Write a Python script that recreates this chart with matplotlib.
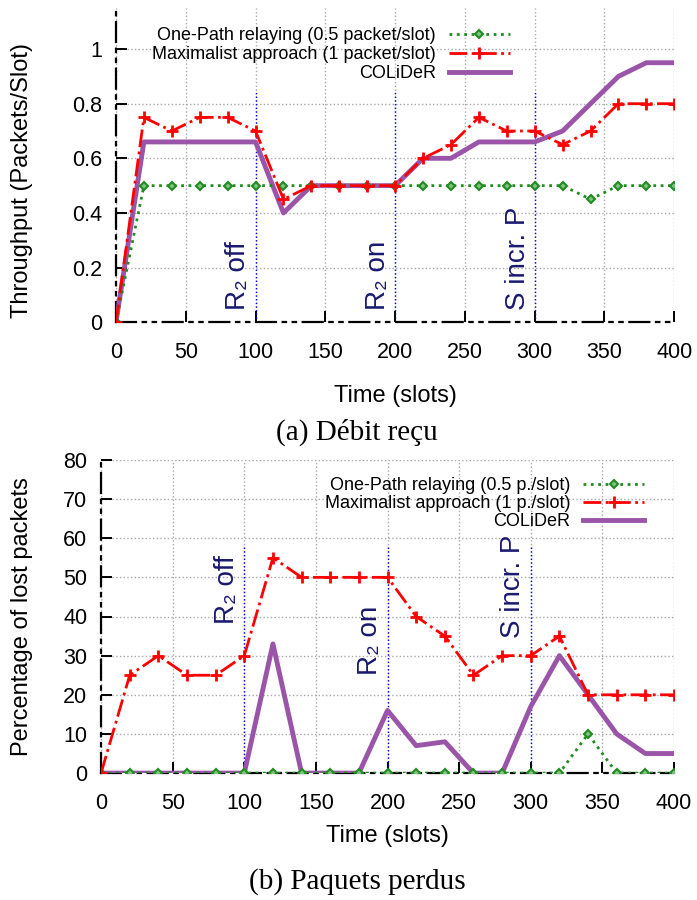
import matplotlib
matplotlib.use('Agg')
import matplotlib.pyplot as plt
from matplotlib.ticker import FormatStrFormatter

plt.rcParams['font.family'] = ['Liberation Sans', 'DejaVu Sans']

# Data
slots = list(range(0, 401, 20))

thr_onepath = [0, 0.5, 0.5, 0.5, 0.5, 0.5, 0.5, 0.5, 0.5, 0.5, 0.5,
               0.5, 0.5, 0.5, 0.5, 0.5, 0.5, 0.45, 0.5, 0.5, 0.5]
thr_maximal = [0, 0.75, 0.70, 0.75, 0.75, 0.70, 0.45, 0.5, 0.5, 0.5, 0.5,
               0.6, 0.65, 0.75, 0.70, 0.70, 0.65, 0.70, 0.8, 0.8, 0.8]
thr_colider = [0, 0.66, 0.66, 0.66, 0.66, 0.66, 0.40, 0.5, 0.5, 0.5, 0.5,
               0.6, 0.6, 0.66, 0.66, 0.66, 0.70, 0.8, 0.9, 0.95, 0.95]

lost_onepath = [0, 0, 0, 0, 0, 0, 0, 0, 0, 0, 0,
                0, 0, 0, 0, 0, 0, 10, 0, 0, 0]
lost_maximal = [0, 25, 30, 25, 25, 30, 55, 50, 50, 50, 50,
                40, 35, 25, 30, 30, 35, 20, 20, 20, 20]
lost_colider = [0, 0, 0, 0, 0, 0, 33, 0, 0, 0, 16,
                7, 8, 0, 0, 17, 30, 20, 10, 5, 5]

event_x = [100, 200, 300]
event_labels = ['R\u2082 off', 'R\u2082 on', 'S incr. P']

spine_ls = (0, (9, 3, 1.5, 3, 1.5, 3))


def style_axes(ax):
    for s in ['top', 'right']:
        ax.spines[s].set_visible(False)
    for s in ['left', 'bottom']:
        ax.spines[s].set_linestyle(spine_ls)
        ax.spines[s].set_linewidth(1.6)
    ax.tick_params(direction='in', length=8, width=1.4, labelsize=15.5,
                   top=False, right=False)
    ax.tick_params(axis='x', pad=14)
    ax.tick_params(axis='y', pad=10)
    ax.grid(True, color='#a8a8a8', linestyle=':', linewidth=1.0)
    ax.set_axisbelow(True)
    ax.set_xlim(0, 400)
    ax.set_xticks(range(0, 401, 50))
    ax.set_xlabel('Time (slots)', fontsize=17)


def draw_series(ax, one, maxi, col, labels):
    ax.plot(slots, col, color='#9a55a8', lw=3.5, zorder=3, label=labels[2])
    ax.plot(slots, one, color='#228b22', lw=2, ls=':', marker='D', ms=4.5,
            mfc='#7fc27f', mec='#228b22', mew=1.5, zorder=4, label=labels[0])
    ax.plot(slots, maxi, color='red', lw=2, ls='-.', marker='+', ms=8,
            mew=2, zorder=5, label=labels[1])
    h, l = ax.get_legend_handles_labels()
    return [h[1], h[2], h[0]], [l[1], l[2], l[0]]


fig = plt.figure(figsize=(6.97, 9.0), dpi=100)

# (a) throughput
ax1 = fig.add_axes([0.1664, 0.642, 0.801, 0.349])
style_axes(ax1)
ax1.set_ylim(0, 1.15)
ax1.set_yticks([0, 0.2, 0.4, 0.6, 0.8, 1.0])
ax1.yaxis.set_major_formatter(FormatStrFormatter('%g'))
ax1.set_ylabel('Throughput (Packets/Slot)', fontsize=17)
ax1.xaxis.set_label_coords(0.5, -0.199)
ax1.yaxis.set_label_coords(-0.149, 0.45)
h, l = draw_series(ax1, thr_onepath, thr_maximal, thr_colider,
                   ['One-Path relaying (0.5 packet/slot)',
                    'Maximalist approach (1 packet/slot)', 'COLiDeR'])
ax1.legend(h, l, loc='upper right', bbox_to_anchor=(0.706, 0.94),
           frameon=False, markerfirst=False, fontsize=13, handlelength=3.4,
           labelspacing=0.12, handletextpad=0.7, borderpad=0,
           borderaxespad=0)
for x, lab in zip(event_x, event_labels):
    ax1.plot([x, x], [0, 0.85], color='blue', ls=':', lw=1, zorder=2)
    ax1.text(x - 3, 0.045, lab, rotation=90, ha='right', va='bottom',
             color='#191970', fontsize=20)

# (b) lost packets
ax2 = fig.add_axes([0.145, 0.141, 0.822, 0.348])
style_axes(ax2)
ax2.set_ylim(0, 80)
ax2.set_yticks(range(0, 81, 10))
ax2.set_ylabel('Percentage of lost packets', fontsize=17)
ax2.xaxis.set_label_coords(0.5, -0.166)
ax2.yaxis.set_label_coords(-0.119, 0.5)
h, l = draw_series(ax2, lost_onepath, lost_maximal, lost_colider,
                   ['One-Path relaying (0.5 p./slot)',
                    'Maximalist approach (1 p./slot)', 'COLiDeR'])
ax2.legend(h, l, loc='upper right', bbox_to_anchor=(0.948, 0.944),
           frameon=False, markerfirst=False, fontsize=13, handlelength=3.4,
           labelspacing=0.05, handletextpad=0.7, borderpad=0,
           borderaxespad=0)
lab_y = [38, 25, 34.5]
for x, lab, y in zip(event_x, event_labels, lab_y):
    ax2.plot([x, x], [0, 58], color='blue', ls=':', lw=1, zorder=2)
    ax2.text(x - 3, y, lab, rotation=90, ha='right', va='bottom',
             color='#191970', fontsize=20)

# captions
fig.text(0.512, 1 - 432 / 900, '(a) Débit reçu', ha='center', va='center',
         fontsize=21, family=['Liberation Serif', 'DejaVu Serif'])
fig.text(0.512, 1 - 882 / 900, '(b) Paquets perdus', ha='center',
         va='center', fontsize=21, family=['Liberation Serif', 'DejaVu Serif'])

plt.savefig('out.png', dpi=100)
plt.close()
